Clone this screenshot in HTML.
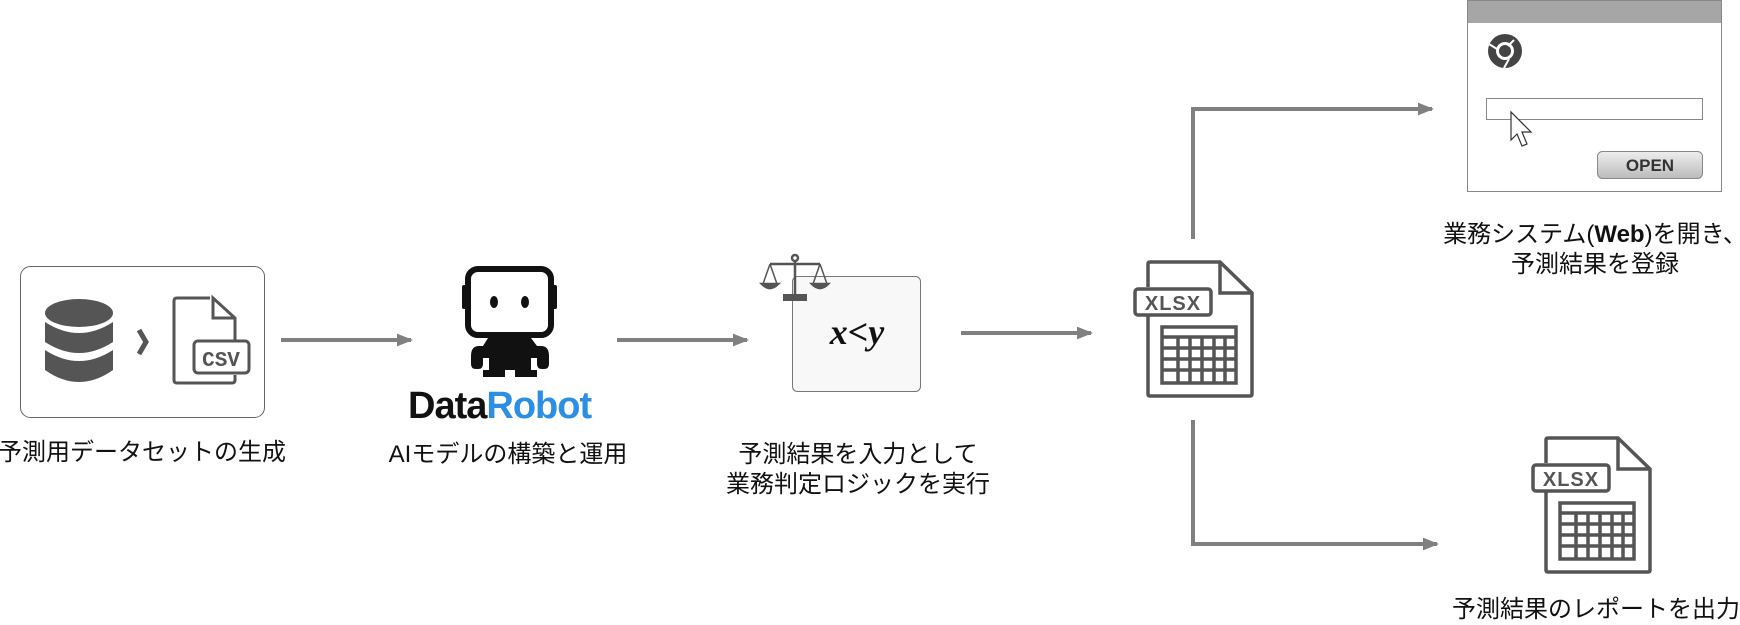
<!DOCTYPE html>
<html><head><meta charset="utf-8"><style>
body{margin:0;width:1740px;height:624px;background:#fff;position:relative;overflow:hidden;font-family:"Liberation Sans","Noto Sans CJK JP",sans-serif;color:#111}
.lbl{position:absolute;font-size:24px;text-align:center;white-space:nowrap;line-height:30px;transform:translateX(-50%)}
.abs{position:absolute}
</style></head><body>

<svg class="abs" style="left:0;top:0" width="1740" height="624">
  <defs>
    <marker id="ah" markerWidth="4" markerHeight="3.2" refX="3.5" refY="1.6" orient="auto" markerUnits="strokeWidth">
      <path d="M0,0 L4,1.6 L0,3.2 z" fill="#808080"/>
    </marker>
    <linearGradient id="bg" x1="0" y1="0" x2="0" y2="1"><stop offset="0" stop-color="#eee"/><stop offset="1" stop-color="#bbb"/></linearGradient>
  </defs>
  <!-- CSV box -->
  <rect x="20.5" y="266.5" width="244" height="151" rx="10" fill="#fff" stroke="#666" stroke-width="1"/>
  <g fill="#555">
    <ellipse cx="79" cy="313" rx="34" ry="14"/>
    <path d="M45,322 q34,22 68,0 v20 q-34,22 -68,0z"/>
    <path d="M45,350 q34,22 68,0 v20 q-34,24 -68,0z"/>
  </g>
  <path d="M139,330 L146,342 L139,354" fill="none" stroke="#555" stroke-width="5"/>
  <g fill="none" stroke="#555" stroke-width="3">
    <path d="M210,298 H177 q-3,0 -3,3 V380 q0,3 3,3 H232 q3,0 3,-3 V375"/>
    <path d="M235,341 V318 L213,298 V318 H235"/>
    <rect x="194" y="341" width="55" height="32" rx="4"/>
  </g>
  <text x="221" y="366" font-size="21" font-weight="bold" fill="#555" text-anchor="middle" font-family="Liberation Mono">CSV</text>

  <g stroke="#808080" stroke-width="4" fill="none">
    <line x1="281" y1="340" x2="411" y2="340" marker-end="url(#ah)"/>
    <line x1="617" y1="340" x2="747" y2="340" marker-end="url(#ah)"/>
    <line x1="961" y1="333" x2="1091" y2="333" marker-end="url(#ah)"/>
    <polyline points="1193,239 1193,109 1432,109" marker-end="url(#ah)"/>
    <polyline points="1193,420 1193,544 1437,544" marker-end="url(#ah)"/>
  </g>

  <!-- robot -->
  <g fill="#111">
    <rect x="468" y="269" width="83" height="66" rx="10" fill="#fff" stroke="#111" stroke-width="6"/>
    <rect x="462" y="285" width="5" height="24" rx="2"/>
    <rect x="552" y="285" width="5" height="24" rx="2"/>
    <ellipse cx="494" cy="302" rx="4" ry="6"/>
    <ellipse cx="525" cy="302" rx="4" ry="6"/>
    <path d="M488,338 h43 l6,8 h4 q8,0 8,10 v8 q0,5 -5,5 h-2 q-5,0 -5,-5 v-6 h-6 v12 h6 v7 h-22 v-7 h-10 v7 h-22 v-7 h6 v-12 h-6 v6 q0,5 -5,5 h-2 q-5,0 -5,-5 v-8 q0,-10 8,-10 h4z"/>
  </g>
  <text x="408" y="418" font-size="38" font-weight="bold" fill="#111" font-family="Liberation Sans" letter-spacing="-1">Data<tspan fill="#2d8fe3">Robot</tspan></text>

  <!-- x<y box -->
  <rect x="792.5" y="276.5" width="128" height="115" rx="5" fill="#f8f8f8" stroke="#777" stroke-width="1"/>
  <text x="857" y="344" font-size="36" font-weight="bold" font-style="italic" text-anchor="middle" font-family="Liberation Serif" fill="#111">x&lt;y</text>
  <!-- scale icon -->
  <g stroke="#555" stroke-width="2.5" fill="#555">
    <line x1="795" y1="258" x2="795" y2="296"/>
    <line x1="770" y1="264" x2="820" y2="264"/>
    <rect x="783" y="294" width="24" height="7" stroke="none"/>
    <circle cx="795" cy="258" r="3" fill="#fff"/>
    <path d="M770,264 L763,284 M770,264 L777,284 M820,264 L813,284 M820,264 L827,284" fill="none" stroke-width="1.5"/>
    <path d="M762,284 h16 q-8,8 -16,0z M812,284 h16 q-8,8 -16,0z"/>
  </g>

  <!-- xlsx main -->
  <g transform="translate(1134,261)">
    <g fill="none" stroke="#555" stroke-width="3.5">
      <path d="M14,26 V3 q0,-2 2,-2 H86 L118,32 V133 q0,2 -2,2 H16 q-2,0 -2,-2 V55"/>
      <path d="M86,1 V32 H118"/>
      <rect x="1" y="28" width="76" height="26" rx="3"/>
      <rect x="28" y="66" width="74" height="56"/>
      <path d="M28,76 H102 M28,87 H102 M28,98 H102 M28,109 H102 M44,76 V122 M56,76 V122 M68,76 V122 M80,76 V122 M91,76 V122"/>
    </g>
    <text x="39" y="49" font-size="20" font-weight="bold" fill="#555" text-anchor="middle" font-family="Liberation Sans" letter-spacing="1">XLSX</text>
  </g>
  <g transform="translate(1532,437)">
    <g fill="none" stroke="#555" stroke-width="3.5">
      <path d="M14,26 V3 q0,-2 2,-2 H86 L118,32 V133 q0,2 -2,2 H16 q-2,0 -2,-2 V55"/>
      <path d="M86,1 V32 H118"/>
      <rect x="1" y="28" width="76" height="26" rx="3"/>
      <rect x="28" y="66" width="74" height="56"/>
      <path d="M28,76 H102 M28,87 H102 M28,98 H102 M28,109 H102 M44,76 V122 M56,76 V122 M68,76 V122 M80,76 V122 M91,76 V122"/>
    </g>
    <text x="39" y="49" font-size="20" font-weight="bold" fill="#555" text-anchor="middle" font-family="Liberation Sans" letter-spacing="1">XLSX</text>
  </g>

  <!-- browser window -->
  <rect x="1467.5" y="0.5" width="254" height="191" fill="#fff" stroke="#888" stroke-width="1"/>
  <rect x="1468" y="1" width="253" height="22" fill="#a6a6a6"/>
  <g>
    <circle cx="1505" cy="51" r="17" fill="#444"/>
    <circle cx="1505" cy="51" r="9" fill="#fff"/>
    <circle cx="1505" cy="51" r="6" fill="#444"/>
    <path d="M1489,44 L1497,49 M1514,40 L1508,46 M1504,68 L1509,59" stroke="#fff" stroke-width="2"/>
  </g>
  <rect x="1486.5" y="98.5" width="216" height="21" fill="#fff" stroke="#888"/>
  <path d="M1511,112 L1511,140 L1517,134 L1522,146 L1527,144 L1522,132 L1531,132 Z" fill="#fff" stroke="#333" stroke-width="1.2"/>
  <rect x="1597.5" y="151.5" width="105" height="27" rx="5" fill="url(#bg)" stroke="#888"/>
  <text x="1650" y="171" font-size="17" font-weight="bold" fill="#333" text-anchor="middle" font-family="Liberation Sans">OPEN</text>
</svg>

<div class="lbl" style="left:142px;top:438px">予測用データセットの生成</div>
<div class="lbl" style="left:508px;top:440px">AIモデルの構築と運用</div>
<div class="lbl" style="left:858px;top:440px">予測結果を入力として<br>業務判定ロジックを実行</div>
<div class="lbl" style="left:1595px;top:220px">業務システム(<b>Web</b>)を開き、<br>予測結果を登録</div>
<div class="lbl" style="left:1596px;top:595px">予測結果のレポートを出力</div>
</body></html>
